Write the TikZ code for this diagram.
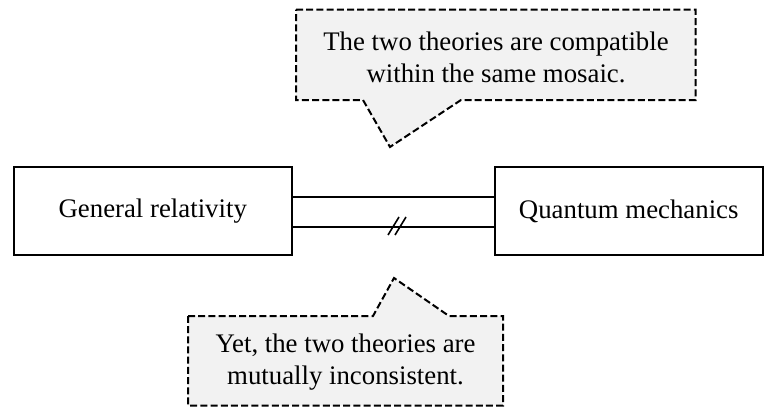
\documentclass[tikz,border=0pt]{standalone}
\usepackage{fontspec}
\setmainfont{Liberation Serif}
\usetikzlibrary{calc}
\definecolor{calloutfill}{HTML}{F2F2F2}
\begin{document}
\begin{tikzpicture}[x=0.5pt,y=-0.5pt,
  every node/.style={font=\fontsize{13.4}{16}\selectfont},
  theorybox/.style={draw, line width=1pt, minimum height=44pt, inner sep=0pt},
  calloutshape/.style={draw, fill=calloutfill, line width=1pt, dash pattern=on 3.5pt off 1.6pt, line join=miter},
  callouttext/.style={align=center, inner sep=0pt},
  link/.style={line width=1pt}
]
\useasboundingbox (0,0) rectangle (764,407);
% boxes
\node[theorybox, minimum width=138.75pt] (gr) at (152.75,211) {General relativity};
\node[theorybox, minimum width=133.75pt] (qm) at (628.75,211) {Quantum mechanics};
% connectors
\draw[link] (gr.east |- 0,197) coordinate (a1) -- (qm.west |- 0,197) coordinate (b1);
\draw[link] (gr.east |- 0,227) coordinate (a2) -- (qm.west |- 0,227) coordinate (b2);
\coordinate (mark) at (398,226);
\draw[line width=0.8pt] ($(mark)+(-10,9)$) -- ($(mark)+(1,-9)$);
\draw[line width=0.8pt] ($(mark)+(-3,9)$) -- ($(mark)+(8,-9)$);
% callouts
\draw[calloutshape] (296,9.5) -- (695.5,9.5) -- (695.5,100) -- (461,100) -- (390,147) coordinate (tipA) -- (363,100) -- (296,100) -- cycle;
\node[callouttext] (topnote) at (496,57) {The two theories are compatible\\within the same mosaic.};
\draw[calloutshape] (188,316) -- (373,316) -- (394,278) coordinate (tipB) -- (449,316) -- (503,316) -- (503,405.5) -- (188,405.5) -- cycle;
\node[callouttext] (botnote) at (345.5,362) {Yet, the two theories are\\mutually inconsistent.};
\end{tikzpicture}
\end{document}
